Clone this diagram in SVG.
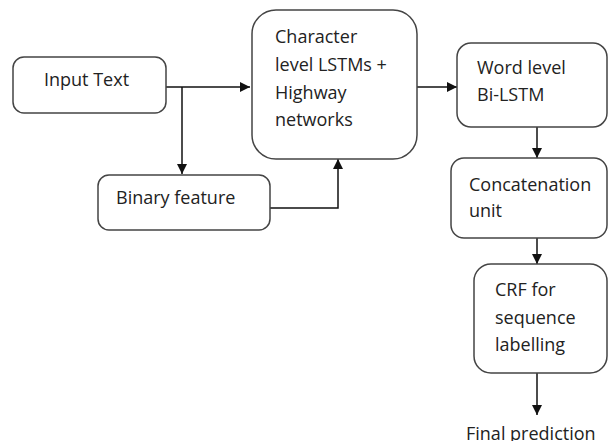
<svg xmlns="http://www.w3.org/2000/svg" width="609" height="441" viewBox="0 0 609 441">
<style>
.box{fill:#fff;stroke:#444;stroke-width:1.5}
.t{font-family:"Open Sans","Liberation Sans",sans-serif;font-size:18px;fill:#222}
.c{fill:none;stroke:#111;stroke-width:1.5}
</style>
<defs>
<marker id="ah" viewBox="0 0 10 10" refX="10" refY="5" markerWidth="10" markerHeight="10" markerUnits="userSpaceOnUse" orient="auto">
<path d="M0,0 L10,5 L0,10 Z" fill="#111"/>
</marker>
</defs>
<rect width="609" height="441" fill="#fff"/>
<g id="connectors">
<path class="c" d="M166,87 H250" marker-end="url(#ah)"/>
<path class="c" d="M182,87 V174" marker-end="url(#ah)"/>
<path class="c" d="M270,208 H338 V159" marker-end="url(#ah)"/>
<path class="c" d="M417,87 H457" marker-end="url(#ah)"/>
<path class="c" d="M537,127 V158" marker-end="url(#ah)"/>
<path class="c" d="M537,238 V264" marker-end="url(#ah)"/>
<path class="c" d="M537,373 V415" marker-end="url(#ah)"/>
</g>
<g id="input">
<rect class="box" x="13" y="57" width="153" height="56" rx="11"/>
<text class="t" x="44" y="86">Input Text</text>
</g>
<g id="binary">
<rect class="box" x="98" y="175" width="172" height="55" rx="11"/>
<text class="t" x="116" y="204">Binary feature</text>
</g>
<g id="charlstm">
<rect class="box" x="252" y="10" width="165" height="149" rx="24"/>
<text class="t" x="275" y="43">Character</text>
<text class="t" x="275" y="71">level LSTMs +</text>
<text class="t" x="275" y="99">Highway</text>
<text class="t" x="275" y="126">networks</text>
</g>
<g id="word">
<rect class="box" x="457" y="43" width="150" height="84" rx="14"/>
<text class="t" x="477" y="74">Word level</text>
<text class="t" x="477" y="101">Bi-LSTM</text>
</g>
<g id="concat">
<rect class="box" x="451" y="158" width="156" height="80" rx="13"/>
<text class="t" x="469" y="191">Concatenation</text>
<text class="t" x="469" y="217">unit</text>
</g>
<g id="crf">
<rect class="box" x="474" y="264" width="133" height="109" rx="17"/>
<text class="t" x="495" y="296">CRF for</text>
<text class="t" x="495" y="324">sequence</text>
<text class="t" x="495" y="351">labelling</text>
</g>
<g id="final">
<text class="t" x="466" y="440">Final prediction</text>
</g>
</svg>
